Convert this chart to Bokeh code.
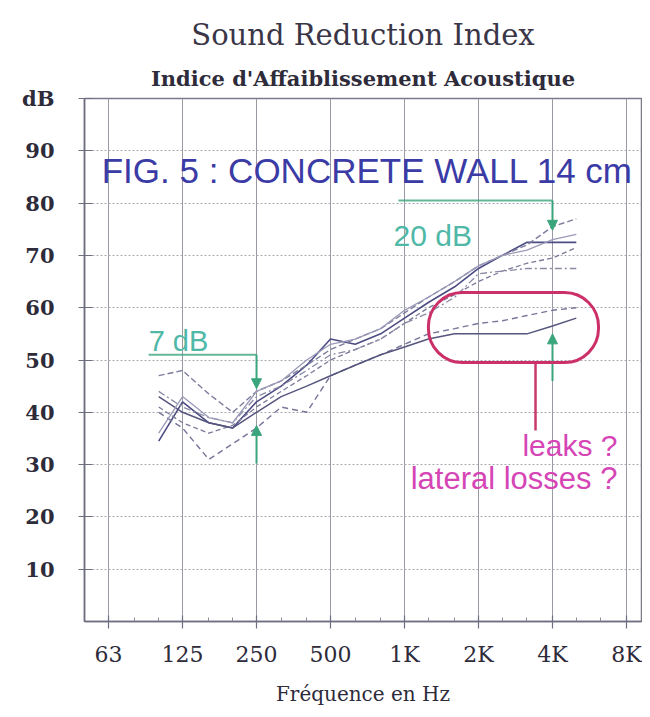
from bokeh.plotting import figure
from bokeh.models import FixedTicker, Title, Label, BoxAnnotation, Arrow, NormalHead
from bokeh.embed import file_html
from bokeh.resources import INLINE

# ---- data ----
freqs = [100, 125, 160, 200, 250, 315, 400, 500, 630, 800, 1000, 1250, 1600, 2000, 2500, 3150, 4000, 5000]
curve_1 = [34.5, 42, 38, 37, 42, 45, 49, 54, 53, 55, 58, 61, 64, 67.5, 70, 72.5, 72.5, 72.5]
curve_2 = [47, 48, 43.5, 40, 44, 46, 49, 52, 54, 56, 59, 62, 65, 68, 70, 72, 75.5, 77]
curve_3 = [41, 38, 36, 37.5, 41, 44, 47, 50, 52, 54, 57, 60, 62.5, 65, 67, 68.5, 69.5, 71.5]
curve_4 = [44, 41, 39, 38, 43, 45, 48, 51, 52, 54, 57, 59, 62, 66.5, 67, 67.5, 67.5, 67.5]
curve_5 = [40, 37, 31, 34, 37, 41, 40, 47, 49, 51, 53, 55, 56, 57, 57.5, 58.5, 59.5, 60]
curve_6 = [43, 40, 38, 37, 40, 43, 45, 47, 49, 51, 52.5, 54, 55, 55, 55, 55, 56.5, 58]
curve_7 = [36, 43, 39, 38, 44, 46, 50, 53, 54, 56, 59.5, 62, 65, 68, 70, 71, 73, 74]

octave_ticks = [62.5, 125, 250, 500, 1000, 2000, 4000, 8000]
octave_labels = ["63", "125", "250", "500", "1K", "2K", "4K", "8K"]
third_octave_ticks = [80, 100, 160, 200, 315, 400, 630, 800, 1250, 1600, 2500, 3150, 5000, 6300]
db_ticks = [10, 20, 30, 40, 50, 60, 70, 80, 90, 100]
db_labels = ["10", "20", "30", "40", "50", "60", "70", "80", "90", "dB"]

# annotation anchors
gap_low = {"f": 250, "from": 51, "to": 44.5, "up_from": 30.2, "up_to": 37.5, "line_start": 91}
gap_high = {"f": 4000, "from": 80.5, "to": 74.8, "up_from": 46, "up_to": 55, "line_start": 945}
leak_box = {"left": 1251, "right": 6156, "bottom": 49.5, "top": 62.9}

SERIF = "DejaVu Serif"
SANS = "Liberation Sans"
GREEN = "#3aa57c"
TEAL = "#4fb8a6"
DARK = "#2e2b3a"

p = figure(width=642, height=709, x_axis_type="log",
           x_range=(49.9, 9208), y_range=(0, 100),
           output_backend="svg", toolbar_location=None,
           min_border_left=84, min_border_right=1, min_border_top=98, min_border_bottom=88)

p.title.text = "Sound Reduction Index"
p.title.text_font = SERIF
p.title.text_font_size = "29px"
p.title.text_font_style = "normal"
p.title.text_color = "#3a3648"
p.title.align = "center"
p.add_layout(Title(text="Indice d'Affaiblissement Acoustique", text_font=SERIF, text_font_size="21px",
                   text_font_style="bold", text_color=DARK, align="center", standoff=15), "above")

p.outline_line_color = "#7a7a88"
p.outline_line_width = 1.5
p.background_fill_color = "white"
p.border_fill_color = "white"

# axes
p.xaxis.ticker = FixedTicker(ticks=octave_ticks, minor_ticks=third_octave_ticks)
p.xaxis.major_label_overrides = dict(zip(octave_ticks, octave_labels))
p.xaxis.axis_label = "Fréquence en Hz"
p.xaxis.axis_label_text_font = SERIF
p.xaxis.axis_label_text_font_style = "normal"
p.xaxis.axis_label_text_font_size = "20px"
p.xaxis.axis_label_text_color = DARK
p.xaxis.axis_label_standoff = 12
p.xaxis.major_label_text_font = SERIF
p.xaxis.major_label_text_font_size = "22px"
p.xaxis.major_label_text_color = DARK
p.xaxis.major_label_standoff = 13
p.xaxis.major_tick_in = 6
p.xaxis.major_tick_out = 7
p.xaxis.minor_tick_in = 4
p.xaxis.minor_tick_out = 0

p.yaxis.ticker = FixedTicker(ticks=db_ticks)
p.yaxis.major_label_overrides = dict(zip(db_ticks, db_labels))
p.yaxis.major_label_text_font = SERIF
p.yaxis.major_label_text_font_size = "21px"
p.yaxis.major_label_text_font_style = "bold"
p.yaxis.major_label_text_color = DARK
p.yaxis.major_label_standoff = 24
p.yaxis.major_tick_in = 8
p.yaxis.major_tick_out = 6
p.yaxis.minor_tick_line_color = None

for ax in (p.xaxis, p.yaxis):
    ax.axis_line_color = "#6e6e80"
    ax.axis_line_width = 1.5
    ax.major_tick_line_color = "#6e6e80"
    ax.major_tick_line_width = 1.2
    ax.minor_tick_line_color = "#8a8a98"

p.xgrid.grid_line_color = "#9a9aa4"
p.xgrid.grid_line_width = 1
p.ygrid.grid_line_color = "#a8a8b0"
p.ygrid.grid_line_dash = "2 2"
p.ygrid.grid_line_width = 1

# curves
styles = [
    (curve_1, "#4c4c84", "solid", 1.6),
    (curve_2, "#7c7c9c", "6 3", 1.4),
    (curve_3, "#7a7a98", "5 3", 1.3),
    (curve_4, "#8a8aa4", "7 3 2 3", 1.3),
    (curve_5, "#76769a", "6 4", 1.4),
    (curve_6, "#55557e", "solid", 1.5),
    (curve_7, "#9a9ab8", "solid", 1.3),
]
for vals, col, dash, w in styles:
    p.line(freqs, vals, line_color=col, line_dash=dash, line_width=w)

# figure caption
p.add_layout(Label(x=707, y=86.2, text="FIG. 5 : CONCRETE WALL 14 cm",
                   text_font=SANS, text_font_size="35px", text_color="#3b3ba6",
                   text_align="center", text_baseline="middle"))

head = dict(size=10, fill_color=GREEN, line_color=GREEN)

# 7 dB gap
p.line([gap_low["line_start"], gap_low["f"]], [gap_low["from"], gap_low["from"]],
       line_color=GREEN, line_width=2, line_alpha=0.8)
p.add_layout(Arrow(end=NormalHead(**head),
                   x_start=gap_low["f"], y_start=gap_low["from"], x_end=gap_low["f"], y_end=gap_low["to"],
                   line_color=GREEN, line_width=2))
p.add_layout(Arrow(end=NormalHead(**head),
                   x_start=gap_low["f"], y_start=gap_low["up_from"], x_end=gap_low["f"], y_end=gap_low["up_to"],
                   line_color=GREEN, line_width=2))
p.add_layout(Label(x=gap_low["line_start"], y=53.6, text="7 dB", text_font=SANS,
                   text_font_size="29px", text_color=TEAL, text_baseline="middle"))

# 20 dB gap
p.line([gap_high["line_start"], gap_high["f"]], [gap_high["from"], gap_high["from"]],
       line_color=GREEN, line_width=2, line_alpha=0.8)
p.add_layout(Arrow(end=NormalHead(**head),
                   x_start=gap_high["f"], y_start=gap_high["from"], x_end=gap_high["f"], y_end=gap_high["to"],
                   line_color=GREEN, line_width=2))
p.add_layout(Arrow(end=NormalHead(**head),
                   x_start=gap_high["f"], y_start=gap_high["up_from"], x_end=gap_high["f"], y_end=gap_high["up_to"],
                   line_color=GREEN, line_width=2))
p.add_layout(Label(x=903, y=73.8, text="20 dB", text_font=SANS,
                   text_font_size="30px", text_color=TEAL, text_baseline="middle"))

# leak highlight
p.add_layout(BoxAnnotation(left=leak_box["left"], right=leak_box["right"],
                           bottom=leak_box["bottom"], top=leak_box["top"],
                           fill_alpha=0, line_color="#cc3068", line_alpha=1, line_width=3,
                           border_radius=34))
p.line([3412, 3412], [leak_box["bottom"], 36.5], line_color="#c83a68", line_width=2.5)
p.add_layout(Label(x=7350, y=33.7, text="leaks ?", text_font=SANS, text_font_size="30px",
                   text_color="#d545b5", text_align="right", text_baseline="middle"))
p.add_layout(Label(x=7350, y=27.3, text="lateral losses ?", text_font=SANS, text_font_size="31px",
                   text_color="#d545b5", text_align="right", text_baseline="middle"))

open("out.html", "w").write(file_html(p, INLINE))
